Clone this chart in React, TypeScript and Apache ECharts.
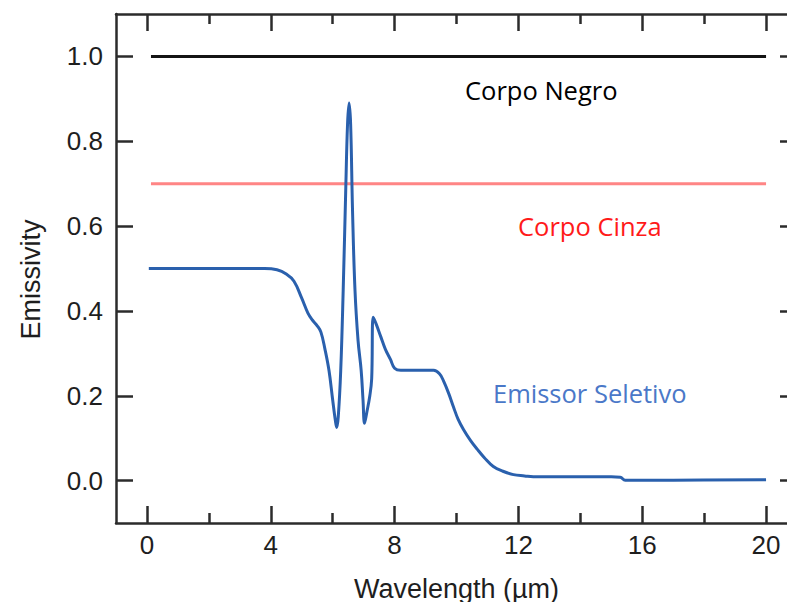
import React, { useEffect, useRef } from "react";
import * as echarts from "echarts";

const wavelength: number[] = [
  0.06, 0.5, 1, 2, 3, 3.8, 4.2, 4.5, 4.75, 5.0, 5.2, 5.35, 5.5, 5.62, 5.75, 5.88, 6.0, 6.08, 6.13, 6.18,
  6.26, 6.34, 6.42, 6.48, 6.53, 6.58, 6.64, 6.72, 6.82, 6.92, 6.98, 7.03, 7.1, 7.2, 7.26, 7.31, 7.4,
  7.55, 7.7, 7.87, 8.0, 8.2, 9.0, 9.26, 9.45, 9.58, 9.75, 9.9, 10.05, 10.23, 10.45, 10.68, 10.9, 11.19,
  11.5, 11.84, 12.2, 12.48, 13.0, 15.0, 15.29, 15.45, 17.0, 20.0,
];
const selective: number[] = [
  0.5, 0.5, 0.5, 0.5, 0.5, 0.5, 0.497, 0.487, 0.47, 0.43, 0.395, 0.378, 0.365, 0.35, 0.31, 0.26, 0.19,
  0.145, 0.125, 0.15, 0.26, 0.45, 0.68, 0.84, 0.89, 0.84, 0.64, 0.45, 0.33, 0.26, 0.19, 0.135, 0.16,
  0.2, 0.24, 0.385, 0.37, 0.34, 0.31, 0.285, 0.265, 0.26, 0.26, 0.26, 0.252, 0.235, 0.205, 0.174, 0.145,
  0.12, 0.095, 0.073, 0.054, 0.033, 0.022, 0.014, 0.011, 0.009, 0.009, 0.009, 0.008, 0.001, 0.001, 0.002,
];
const blackBodyX: number[] = [0.13, 20];
const blackBodyY: number[] = [1.0, 1.0];
const grayBodyX: number[] = [0.13, 20];
const grayBodyY: number[] = [0.7, 0.7];

const xMajor: number[] = [0, 4, 8, 12, 16, 20];
const xMinor: number[] = [2, 6, 10, 14, 18];
const yMajor: number[] = [0, 0.2, 0.4, 0.6, 0.8, 1.0];
const yMinor: number[] = [0.1, 0.3, 0.5, 0.7, 0.9];

const labelBlack = "Corpo Negro";
const labelGray = "Corpo Cinza";
const labelSelective = "Emissor Seletivo";

const AXIS_COLOR = "#2b2b2b";
const TEXT_COLOR = "#1e1e1e";
const SANS = "'Liberation Sans', Arial, Helvetica, sans-serif";
const NOTE_FONT = "25.5px 'Open Sans', 'Noto Sans', sans-serif";

export default function App() {
  const ref = useRef<HTMLDivElement>(null);
  useEffect(() => {
    if (!ref.current) return;
    const chart = echarts.init(ref.current, null, { renderer: "svg" });
    const baseX = {
      type: "value" as const,
      min: -1,
      max: 21,
      splitLine: { show: false },
    };
    const baseY = {
      type: "value" as const,
      min: -0.1,
      max: 1.1,
      splitLine: { show: false },
    };
    const tickStyle = { color: AXIS_COLOR, width: 2.5 };
    chart.setOption({
      animation: false,
      backgroundColor: "#ffffff",
      grid: {
        left: 116,
        top: 14,
        bottom: 79,
        right: 3,
        containLabel: false,
        outerBoundsMode: "none",
      },
      xAxis: [
        {
          ...baseX,
          position: "bottom",
          name: "Wavelength (µm)",
          nameLocation: "middle",
          nameGap: 52,
          nameTextStyle: { fontFamily: SANS, fontSize: 27, color: TEXT_COLOR },
          axisLine: { show: true, onZero: false, lineStyle: tickStyle },
          axisTick: { show: true, inside: true, length: 17, lineStyle: tickStyle, customValues: xMajor },
          axisLabel: {
            show: true,
            margin: 9,
            fontFamily: SANS,
            fontSize: 26,
            color: TEXT_COLOR,
            customValues: xMajor,
          },
        },
        {
          ...baseX,
          position: "bottom",
          axisLine: { show: false, onZero: false },
          axisTick: { show: true, inside: true, length: 10, lineStyle: tickStyle, customValues: xMinor },
          axisLabel: { show: false },
        },
        {
          ...baseX,
          position: "top",
          axisLine: { show: true, onZero: false, lineStyle: tickStyle },
          axisTick: { show: true, inside: true, length: 17, lineStyle: tickStyle, customValues: xMajor },
          axisLabel: { show: false },
        },
        {
          ...baseX,
          position: "top",
          axisLine: { show: false, onZero: false },
          axisTick: { show: true, inside: true, length: 10, lineStyle: tickStyle, customValues: xMinor },
          axisLabel: { show: false },
        },
      ],
      yAxis: [
        {
          ...baseY,
          position: "left",
          name: "Emissivity",
          nameLocation: "middle",
          nameGap: 72,
          nameRotate: 90,
          nameTextStyle: {
            fontFamily: SANS,
            fontSize: 27,
            color: TEXT_COLOR,
            padding: [0, 22, 0, 0],
          },
          axisLine: { show: true, onZero: false, lineStyle: tickStyle },
          axisTick: { show: true, inside: true, length: 17, lineStyle: tickStyle, customValues: yMajor },
          axisLabel: {
            show: true,
            margin: 13,
            fontFamily: SANS,
            fontSize: 26,
            color: TEXT_COLOR,
            customValues: yMajor,
            formatter: (v: number) => v.toFixed(1),
          },
        },
        {
          ...baseY,
          position: "right",
          axisLine: { show: true, onZero: false, lineStyle: tickStyle },
          axisTick: { show: true, inside: true, length: 17, lineStyle: tickStyle, customValues: yMajor },
          axisLabel: { show: false },
        },
        {
          ...baseY,
          position: "right",
          axisLine: { show: false, onZero: false },
          axisTick: { show: true, inside: true, length: 10, lineStyle: tickStyle, customValues: yMinor },
          axisLabel: { show: false },
        },
      ],
      series: [
        {
          type: "line",
          name: labelBlack,
          xAxisIndex: 0,
          yAxisIndex: 0,
          data: blackBodyX.map((x, i) => [x, blackBodyY[i]]),
          showSymbol: false,
          lineStyle: { color: "#141414", width: 3 },
          silent: true,
        },
        {
          type: "line",
          name: labelGray,
          xAxisIndex: 0,
          yAxisIndex: 0,
          data: grayBodyX.map((x, i) => [x, grayBodyY[i]]),
          showSymbol: false,
          lineStyle: { color: "#ff8585", width: 3 },
          silent: true,
        },
        {
          type: "line",
          name: labelSelective,
          xAxisIndex: 0,
          yAxisIndex: 0,
          data: wavelength.map((x, i) => [x, selective[i]]),
          showSymbol: false,
          smooth: 0.4,
          lineStyle: { color: "#2a60ad", width: 3 },
          silent: true,
        },
      ],
      graphic: [
        {
          type: "text",
          x: 465,
          y: 90,
          style: {
            text: labelBlack,
            font: NOTE_FONT,
            fill: "#000000",
            textAlign: "left",
            textVerticalAlign: "middle",
          },
        },
        {
          type: "text",
          x: 518,
          y: 226,
          style: {
            text: labelGray,
            font: NOTE_FONT,
            fill: "#ff1a1a",
            textAlign: "left",
            textVerticalAlign: "middle",
          },
        },
        {
          type: "text",
          x: 493,
          y: 393,
          style: {
            text: labelSelective,
            font: NOTE_FONT,
            fill: "#4a78c8",
            textAlign: "left",
            textVerticalAlign: "middle",
          },
        },
      ],
    });
    return () => chart.dispose();
  }, []);
  return (
    <div style={{ position: "absolute", left: 0, top: 0, width: 787, height: 602, overflow: "hidden" }}>
      <div ref={ref} style={{ width: 800, height: 602 }} />
    </div>
  );
}
